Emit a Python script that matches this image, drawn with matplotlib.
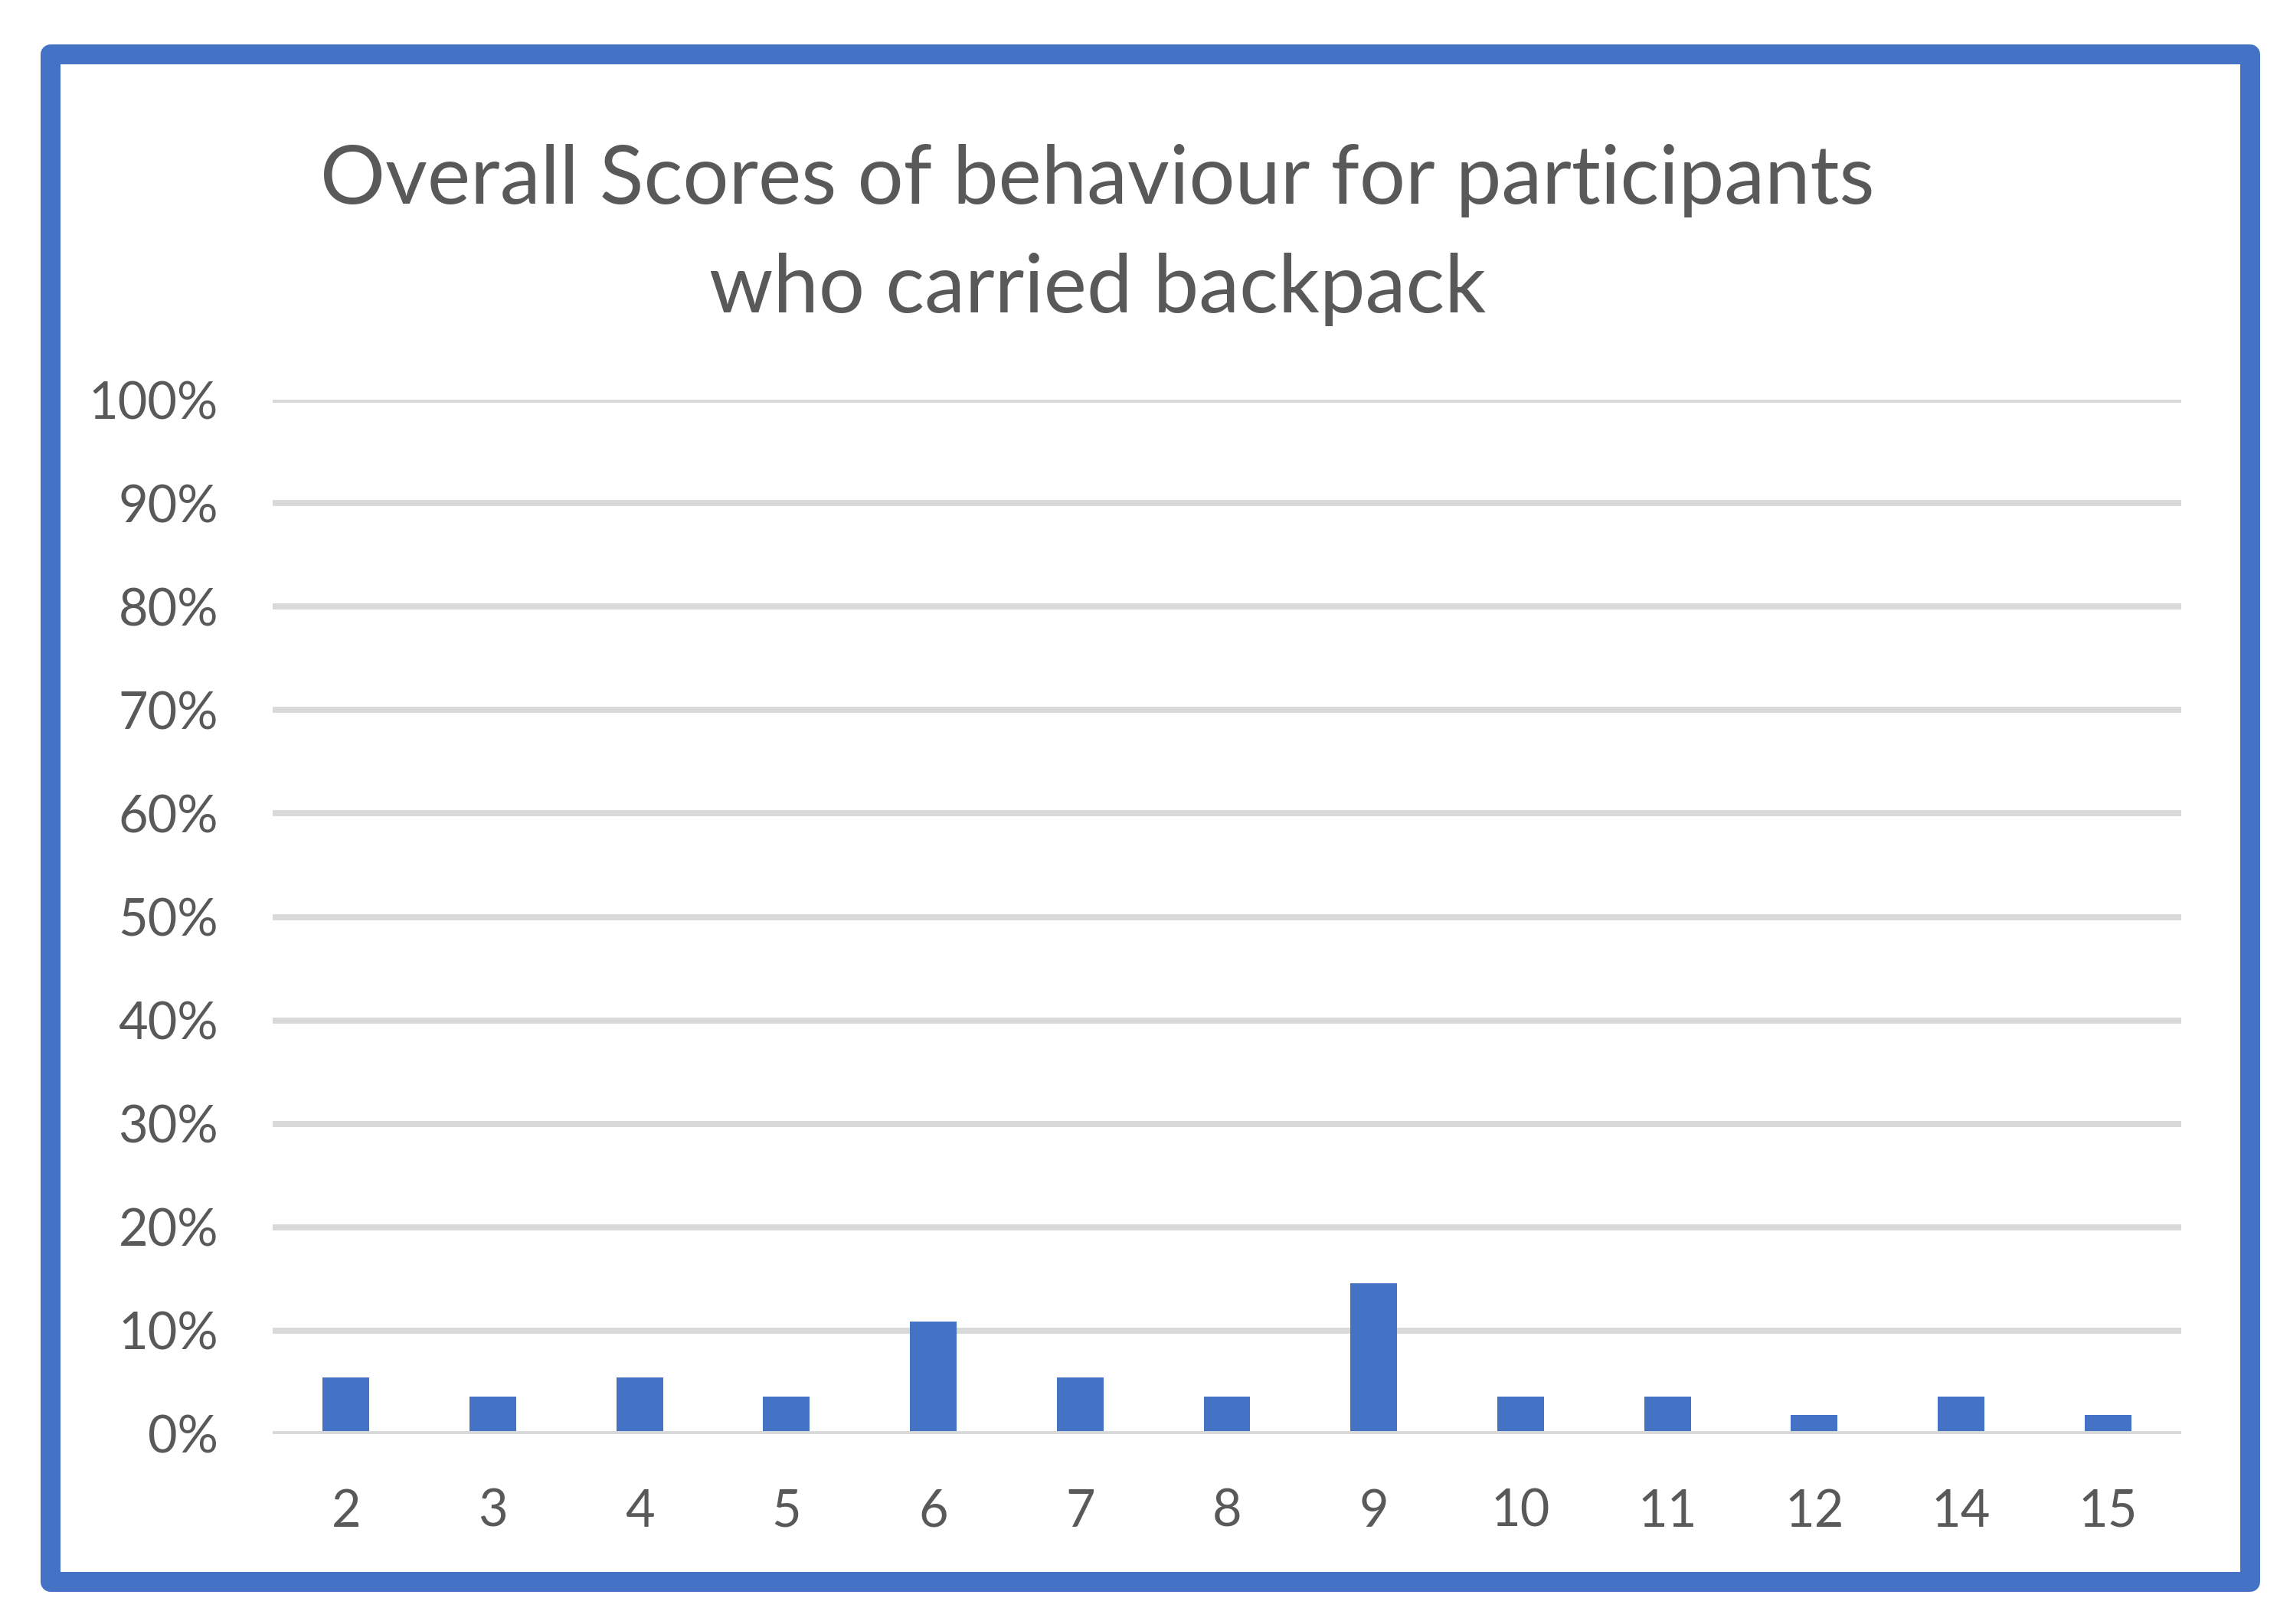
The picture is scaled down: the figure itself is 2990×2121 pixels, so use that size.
import matplotlib.pyplot as plt
from matplotlib.patches import Rectangle
from matplotlib.ticker import FuncFormatter

plt.rcParams["font.family"] = ["Lato", "DejaVu Sans"]

# data (share of participants per overall score)
scores = ["2", "3", "4", "5", "6", "7", "8", "9", "10", "11", "12", "14", "15"]
share = [5.45, 3.64, 5.45, 3.64, 10.91, 5.45, 3.64, 14.55, 3.64, 3.64, 1.82, 3.64, 1.82]
title_lines = ["Overall Scores of behaviour for participants", "who carried backpack"]

W, H = 2990, 2121
DPI = 300
TXT = "#595959"
BLUE = "#4472C4"
GRID = "#D9D9D9"

fig = plt.figure(figsize=(W / DPI, H / DPI), dpi=DPI)
ax = fig.add_axes([356 / W, 1 - 1873 / H, 2492 / W, (1873 - 522) / H])

x = range(len(scores))
ax.bar(x, share, width=0.318, color=BLUE, zorder=2)

ax.set_xlim(-0.5, len(scores) - 0.5)
ax.set_ylim(0, 100)
ax.set_yticks(range(0, 101, 10))
ax.yaxis.set_major_formatter(FuncFormatter(lambda v, p: f"{v:.0f}%"))
ax.set_xticks(list(x))
ax.set_xticklabels(scores)

for y in range(10, 101, 10):
    ax.axhline(y, color=GRID, lw=1.9, zorder=1)
ax.axhline(0, color=GRID, lw=1.9, zorder=3)

for s in ax.spines.values():
    s.set_visible(False)
ax.tick_params(axis="both", length=0, labelsize=16, colors=TXT)
ax.tick_params(axis="y", pad=17)
ax.tick_params(axis="x", pad=17)

# title, two centred lines
fig.text(1433 / W, 1 - 266 / H, title_lines[0], ha="center", va="baseline",
         fontsize=25.5, color=TXT)
fig.text(1433 / W, 1 - 408 / H, title_lines[1], ha="center", va="baseline",
         fontsize=25.5, color=TXT)

# blue frame round the chart
frame = Rectangle((66 / W, 1 - 2066 / H), (2938 - 66) / W, (2066 - 71) / H,
                  transform=fig.transFigure, fill=False, edgecolor=BLUE,
                  lw=26 * 72 / DPI, joinstyle="round")
fig.patches.append(frame)

fig.savefig("out.png", dpi=DPI)
